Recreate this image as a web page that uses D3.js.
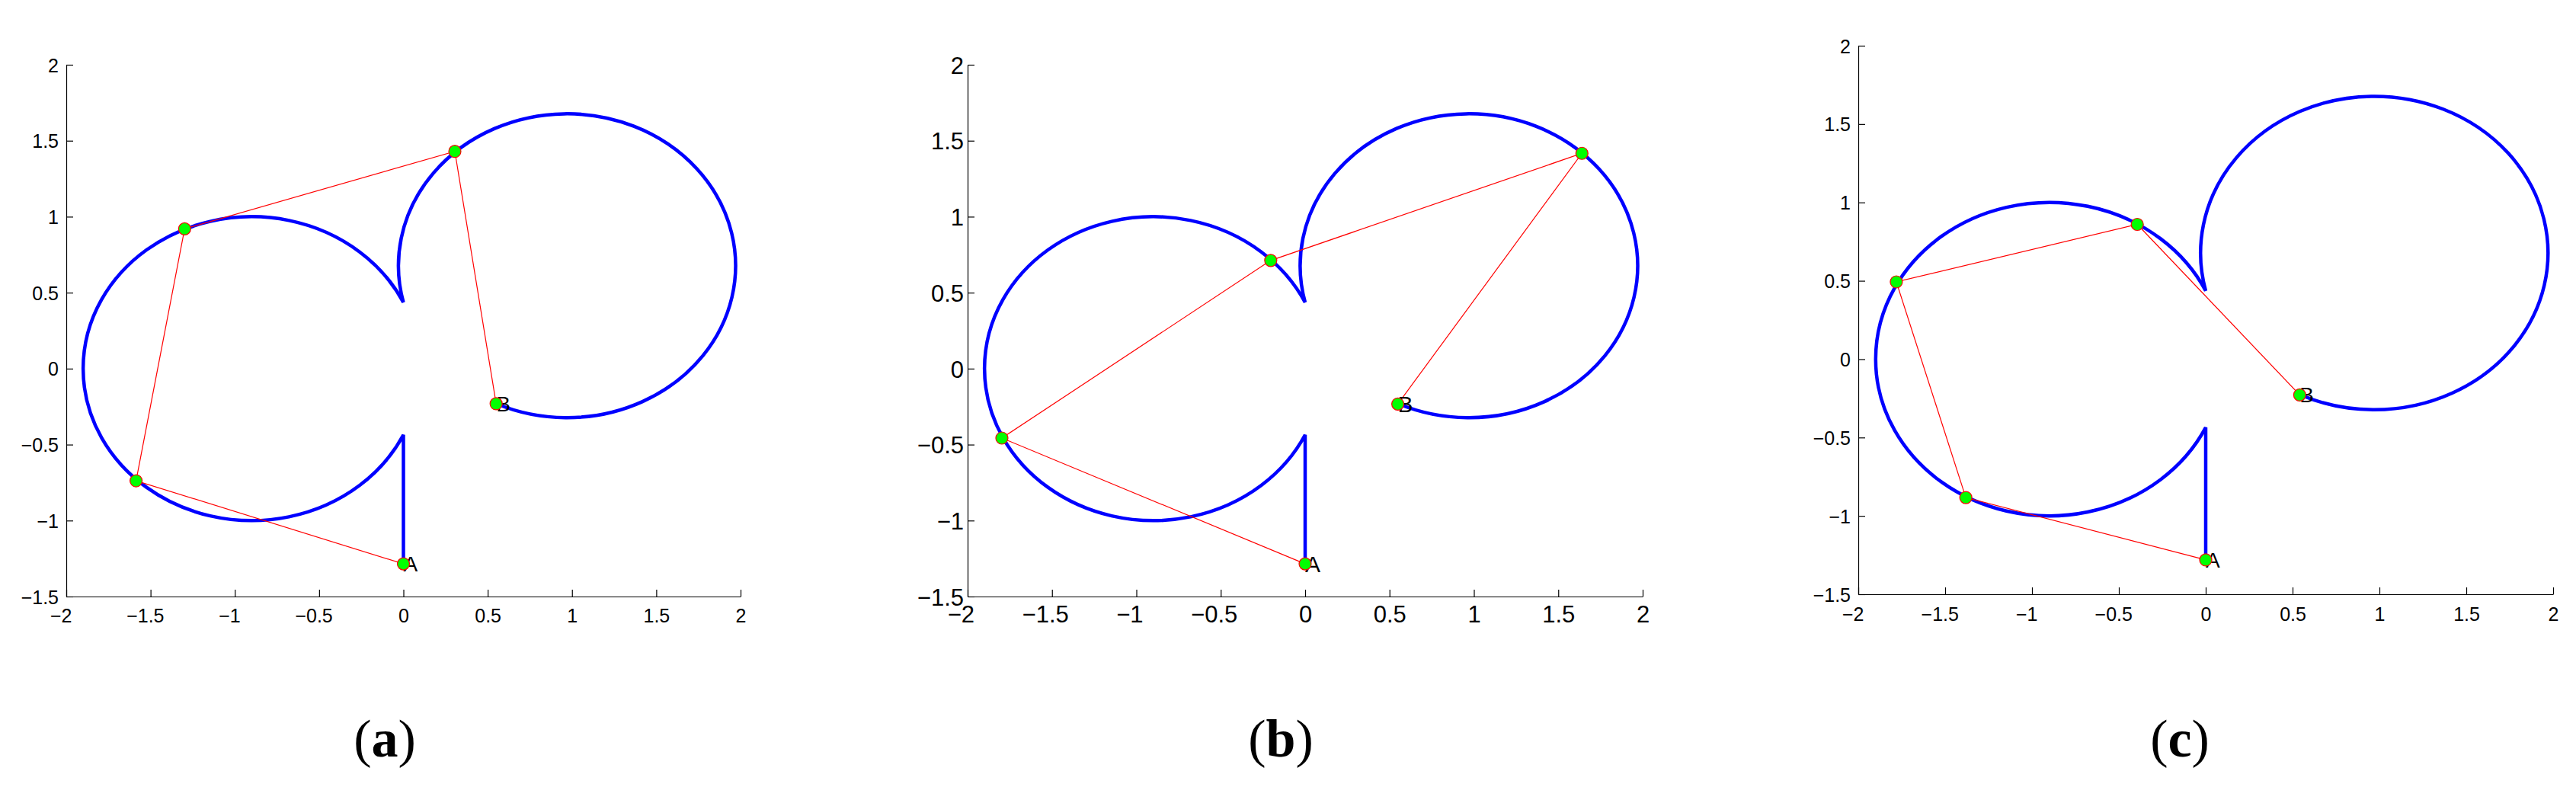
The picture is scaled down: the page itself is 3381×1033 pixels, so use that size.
<!DOCTYPE html>
<html><head><meta charset="utf-8">
<script src="https://cdn.jsdelivr.net/npm/d3@7"></script>
<style>html,body{margin:0;padding:0;background:#fff;} svg{display:block}</style>
</head><body>
<script>
// ---------- data ----------
const panelIds = ["a", "b", "c"];
const xTickValues = [-2, -1.5, -1, -0.5, 0, 0.5, 1, 1.5, 2];
const yTickValues = [-1.5, -1, -0.5, 0, 0.5, 1, 1.5, 2];
const xTickLabels = ["−2", "−1.5", "−1", "−0.5", "0", "0.5", "1", "1.5", "2"];
const yTickLabels = ["−1.5", "−1", "−0.5", "0", "0.5", "1", "1.5", "2"];
const xDomain = [-2, 2];
const yDomain = [-1.5, 2];
// blue curve: straight segment, then two turning arcs of radius 1 joined at cusps
const curveStart = [0, -1.285];
const cuspLower = [0, -0.436];
const cuspUpper = [0, 0.436];
const curveEnd = [0.55, -0.23];
const turnRadius = 1.0;
// red chains with green nodes (A ... B)
const chainA = [[0, -1.285], [-1.586, -0.738], [-1.298, 0.920], [0.305, 1.430], [0.550, -0.231]];
const chainB = [[0, -1.285], [-1.797, -0.457], [-0.204, 0.712], [1.640, 1.417], [0.549, -0.233]];
const chainC = [[0, -1.281], [-1.381, -0.883], [-1.781, 0.493], [-0.394, 0.860], [0.541, -0.228]];
const endLabels = ["A", "B"];

// ---------- layout / style ----------
const chains = [chainA, chainB, chainC];
const layout = [
  {x0: 87,   x1: 972,  y0: 85, y1: 783, font: 25, labelFont: 28, yGap: 10, xBase: 34, cx: 505},
  {x0: 1270, x1: 2156, y0: 85, y1: 783, font: 31, labelFont: 30, yGap: 5,  xBase: 34, cx: 1681},
  {x0: 2439, x1: 3351, y0: 60, y1: 780, font: 25, labelFont: 28, yGap: 10, xBase: 35, cx: 2861}
];
const W = 3381, H = 1033;
const sansFont = "'Liberation Sans', Arial, Helvetica, sans-serif";

const svg = d3.select("body").append("svg").attr("width", W).attr("height", H)
  .style("background", "#fff");

panelIds.forEach((id, i) => {
  const L = layout[i];
  const x = d3.scaleLinear().domain(xDomain).range([L.x0, L.x1]);
  const y = d3.scaleLinear().domain(yDomain).range([L.y1, L.y0]);
  const g = svg.append("g");

  // axes
  const xAxis = d3.axisBottom(x).tickValues(xTickValues)
    .tickFormat((d, k) => xTickLabels[k]).tickSizeInner(-9).tickSizeOuter(0);
  const yAxis = d3.axisLeft(y).tickValues(yTickValues)
    .tickFormat((d, k) => yTickLabels[k]).tickSizeInner(-9).tickSizeOuter(0);

  const gx = g.append("g").attr("transform", `translate(0,${L.y1})`).call(xAxis);
  const gy = g.append("g").attr("transform", `translate(${L.x0},0)`).call(yAxis);
  [gx, gy].forEach(a => {
    a.attr("font-family", sansFont).attr("font-size", L.font).attr("color", "#000");
    a.selectAll("path, line").attr("stroke", "#000").attr("stroke-width", 1.2);
  });
  gx.selectAll("text").attr("y", L.xBase).attr("dy", 0).each(function () {
    const t = d3.select(this);
    const s = t.text();
    if (s.startsWith("−")) {
      const full = this.getComputedTextLength();
      t.text(s.slice(1));
      const rest = this.getComputedTextLength();
      t.text(s);
      t.attr("dx", -(full - rest) / 2);
    }
  });
  gy.selectAll("text").attr("x", -L.yGap).attr("dy", "0.36em");

  // blue curve
  const rx = x(turnRadius) - x(0), ry = y(0) - y(turnRadius);
  const d = `M${x(curveStart[0])},${y(curveStart[1])}` +
    ` L${x(cuspLower[0])},${y(cuspLower[1])}` +
    ` A${rx},${ry} 0 1 1 ${x(cuspUpper[0])},${y(cuspUpper[1])}` +
    ` A${rx},${ry} 0 1 1 ${x(curveEnd[0])},${y(curveEnd[1])}`;
  g.append("path").attr("d", d).attr("fill", "none").attr("stroke", "#0000ff")
    .attr("stroke-width", 4.5).attr("stroke-linejoin", "bevel");

  // red chain
  const chain = chains[i];
  g.append("path").datum(chain)
    .attr("d", d3.line().x(p => x(p[0])).y(p => y(p[1])))
    .attr("fill", "none").attr("stroke", "#ff0000").attr("stroke-width", 1.2);

  // labels A, B
  const ends = [chain[0], chain[chain.length - 1]];
  g.selectAll("text.endlab").data(ends).join("text").attr("class", "endlab")
    .attr("x", p => x(p[0])).attr("y", p => y(p[1])).attr("dy", "0.36em")
    .attr("font-family", sansFont).attr("font-size", L.labelFont).attr("fill", "#000")
    .text((p, k) => endLabels[k]);

  // green nodes
  g.selectAll("circle").data(chain).join("circle")
    .attr("cx", p => x(p[0])).attr("cy", p => y(p[1])).attr("r", 8)
    .attr("fill", "#00ff00").attr("stroke", "#ff0000").attr("stroke-width", 1.2);

  // caption
  const cap = svg.append("text").attr("x", L.cx).attr("y", 993)
    .attr("text-anchor", "middle").attr("font-family", "'Liberation Serif', 'Times New Roman', serif")
    .attr("font-size", 70).attr("fill", "#000");
  cap.append("tspan").text("(");
  cap.append("tspan").attr("font-weight", "bold").text(id);
  cap.append("tspan").text(")");
});
</script>
</body></html>
